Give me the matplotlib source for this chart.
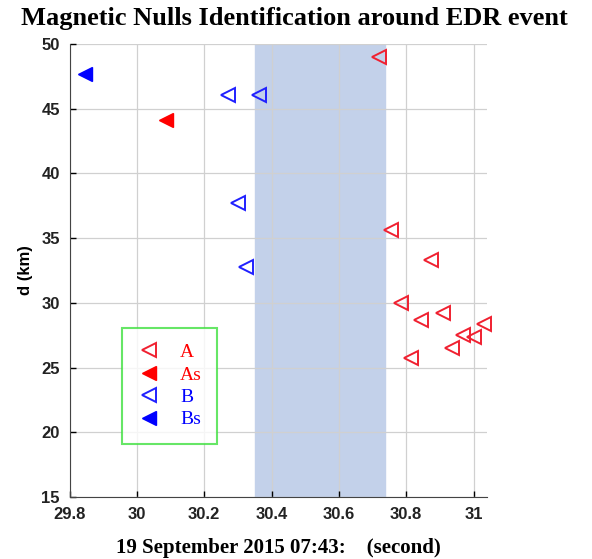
import matplotlib.pyplot as plt

# null positions (time in s after 07:43, distance in km)
a_t = [30.719, 30.756, 30.873, 30.784, 30.844, 30.909, 31.032, 30.968, 31.0, 30.937, 30.813]
a_d = [49.0, 35.66, 33.3, 30.0, 28.67, 29.2, 28.36, 27.5, 27.38, 26.54, 25.73]
as_t = [30.087]
as_d = [44.13]
b_t = [30.27, 30.362, 30.30, 30.325]
b_d = [46.06, 46.06, 37.69, 32.77]
bs_t = [29.846]
bs_d = [47.7]

edr_start, edr_end = 30.35, 30.736

fig = plt.figure(figsize=(5.92, 5.59), dpi=100)
ax = fig.add_axes([0.1174, 0.1109, 0.7052, 0.8104])

ax.axvspan(edr_start, edr_end, color='#c3d1ea', zorder=0)

ms = 10
ax.plot(a_t, a_d, '<', ls='none', mfc='none', mec='#f02030', mew=1.4, ms=ms, label='A', clip_on=False)
ax.plot(as_t, as_d, '<', ls='none', color='#ff0000', ms=ms, label='As')
ax.plot(b_t, b_d, '<', ls='none', mfc='none', mec='#2020ff', mew=1.4, ms=ms, label='B')
ax.plot(bs_t, bs_d, '<', ls='none', color='#0000ff', ms=ms, label='Bs')

ax.set_xlim(29.8, 31.04)
ax.set_ylim(15, 50)
ax.set_xticks([29.8, 30, 30.2, 30.4, 30.6, 30.8, 31])
ax.set_xticklabels(['29.8', '30', '30.2', '30.4', '30.6', '30.8', '31'])
ax.set_yticks(range(15, 51, 5))
ax.grid(True, color='#d0d0d0', lw=0.9, zorder=1)
ax.set_axisbelow(True)
ax.tick_params(direction='in', length=4, labelsize=12, width=1)
ax.tick_params(axis='x', pad=7)
ax.tick_params(axis='y', pad=7)
for lab in ax.get_xticklabels() + ax.get_yticklabels():
    lab.set_family('Liberation Sans')
    lab.set_fontweight('bold')
    lab.set_color('#222222')
for s in ['top', 'right']:
    ax.spines[s].set_visible(False)
for s in ['left', 'bottom']:
    ax.spines[s].set_color('#444444')

ax.set_ylabel('d (km)', family='Liberation Sans', fontsize=12, fontweight='bold', labelpad=6)
ax.set_xlabel('19 September 2015 07:43:    (second)', family='Liberation Serif',
              fontsize=15, fontweight='bold', labelpad=12)
fig.suptitle('Magnetic Nulls Identification around EDR event', family='Liberation Serif',
             fontsize=19, fontweight='bold', x=0.497, y=0.988)

leg = ax.legend(loc='lower left', bbox_to_anchor=(0.125, 0.117), labelcolor='linecolor',
                prop={'family': 'Liberation Serif', 'size': 14}, frameon=True, fancybox=False,
                edgecolor='#40e040', handletextpad=1.0, borderpad=0.8, labelspacing=0.25,
                handlelength=1.2, borderaxespad=0)
leg.get_frame().set_linewidth(1.5)
for t, c in zip(leg.get_texts(), ['#ff0000', '#ff0000', '#0000ff', '#0000ff']):
    t.set_color(c)

fig.savefig('out.png', dpi=100)
